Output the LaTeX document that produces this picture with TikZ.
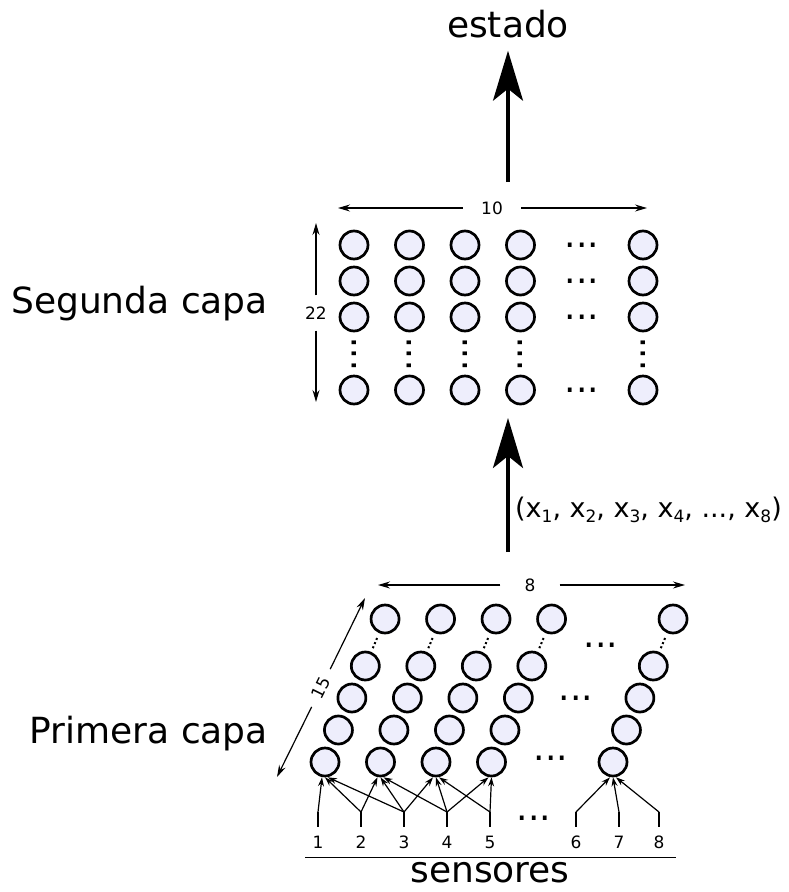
\documentclass[tikz,border=0pt]{standalone}
\usepackage{fontspec}
\setmainfont{DejaVu Sans}
\usetikzlibrary{arrows.meta,positioning,calc}

\definecolor{cellfill}{RGB}{238,238,252}
\newcommand{\bigfont}{\fontsize{36}{40}\selectfont}
\newcommand{\lowidx}[1]{\raisebox{-0.2em}{\fontsize{17}{17}\selectfont #1}}

\tikzset{
  neuron/.style={circle, draw, line width=2.7pt, fill=cellfill, minimum size=28pt, inner sep=0pt},
  bigtext/.style={font=\bigfont, inner sep=0pt},
  hdots/.style={font=\bigfont, inner sep=0pt},
  dimlabel/.style={font=\fontsize{17}{19}\selectfont, inner sep=0pt},
  senlabel/.style={font=\fontsize{17}{19}\selectfont, inner sep=0pt, outer ysep=9pt},
  dimarrow/.style={-{Stealth[length=12pt,width=7pt,inset=4pt]}, line width=1.2pt},
  synarrow/.style={-{Stealth[length=9pt,width=6pt,inset=3pt]}, line width=1.2pt},
  bigarrow/.style={-{Stealth[length=50pt,width=30pt,inset=12pt]}, line width=3.5pt},
  dotlink/.style={line width=2pt, dash pattern=on 2pt off 2.5pt, shorten <=4pt, shorten >=4pt}
}

\begin{document}
\begin{tikzpicture}[>=Stealth, x=1pt, y=-1pt]
      % Page
      \fill[white] (0,0) rectangle (789,892);
      \useasboundingbox (0,0) rectangle (789,892);

      % Output
      \node[bigtext, anchor=base] (estado) at (508,37) {estado};
      \coordinate (outbase) at (508,182);
      \draw[bigarrow] (outbase) -- ([yshift=-13pt]estado.south);

      % Second layer (10 x 22)
      \node[bigtext, anchor=base east] (segunda) at (268,313) {Segunda capa};
      \foreach \c/\x in {1/354,2/409.5,3/465,4/520.5,10/643}
        \foreach \r/\y in {1/245,2/281,3/317,22/390}
          \node[neuron] (seg-\c-\r) at (\x,\y) {};
      \foreach \r/\y in {1/245,2/281,3/317,22/390}
        \node[hdots] (segdots-\r) at (582,\y) {...};
      \foreach \c/\x in {1/354,2/409.5,3/465,4/520.5,10/643}
        \node[hdots, rotate=90] (segvdots-\c) at (\x,354) {...};

      % Sizes of second layer
      \node[dimlabel] (w10) at (492,208) {10};
      \coordinate (w10l) at (338,208);
      \coordinate (w10r) at (647,208);
      \draw[dimarrow, shorten <=18pt] (w10) -- (w10l);
      \draw[dimarrow, shorten <=18pt] (w10) -- (w10r);
      \node[dimlabel] (h22) at (316,313) {22};
      \coordinate (h22t) at (316,223);
      \coordinate (h22b) at (316,402);
      \draw[dimarrow, shorten <=11pt] (h22) -- (h22t);
      \draw[dimarrow, shorten <=11pt] (h22) -- (h22b);

      % Between the layers
      \coordinate (tupbase) at (508,552);
      \coordinate (tuptip) at (508,418);
      \draw[bigarrow] (tupbase) -- (tuptip);
      \node[anchor=base west, inner sep=0pt, font=\fontsize{27}{30}\selectfont] (tup) at (515,517)
        {(x\lowidx{1}, x\lowidx{2}, x\lowidx{3}, x\lowidx{4}, ..., x\lowidx{8})};

      % First layer (8 x 15), sheared
      \node[bigtext, anchor=base east] (primera) at (268,743) {Primera capa};
      \foreach \c/\x in {1/325,2/380.5,3/436,4/491.5,8/613}
        \foreach \r/\y in {1/762,2/730,3/698,4/666,15/619}
          \node[neuron] (pri-\c-\r) at ({\x+0.42*(762-\y)},\y) {};
      \foreach \c in {1,2,3,4,8}
        \draw[dotlink] (pri-\c-4) -- (pri-\c-15);
      \node[hdots] (pridots-1) at (551,758) {...};
      \node[hdots] (pridots-3) at (576,698) {...};
      \node[hdots] (pridots-15) at (601,645) {...};

      % Sizes of first layer
      \node[dimlabel] (w8) at (530,585) {8};
      \coordinate (w8l) at (378,585);
      \coordinate (w8r) at (685,585);
      \draw[dimarrow, shorten <=24pt] (w8) -- (w8l);
      \draw[dimarrow, shorten <=24pt] (w8) -- (w8r);
      \node[dimlabel, rotate=63.8] (d15) at (321,688) {15};
      \coordinate (d15b) at (277,777);
      \coordinate (d15t) at (365,598);
      \draw[dimarrow, shorten <=10pt] (d15) -- (d15b);
      \draw[dimarrow, shorten <=10pt] (d15) -- (d15t);

      % Sensors
      \foreach \i/\x in {1/318,2/361,3/404,4/447,5/490,6/576,7/619,8/659} {
        \node[senlabel] (sen\i) at (\x,842) {\i};
        \coordinate (knot\i) at (\x,812);
        \draw[line width=1.2pt] (sen\i) -- (knot\i);
      }
      \node[hdots] (sendots) at (534,818) {...};
      \foreach \i/\j/\o in {1/1/-3,2/1/0,3/1/3,2/2/-3,3/2/0,4/2/3,3/3/-3,4/3/0,5/3/3,
                            4/4/-3,5/4/0,6/8/-3,7/8/0,8/8/3}
        \draw[synarrow] (knot\i) -- ([xshift=\o pt]pri-\j-1.south);

      % Sensor base line
      \coordinate (basel) at (305,857);
      \coordinate (baser) at (676,857);
      \draw[line width=1pt] (basel) -- (baser);
      \node[bigtext, anchor=base] (sensores) at (490,882) {sensores};
    \end{tikzpicture}
\end{document}
